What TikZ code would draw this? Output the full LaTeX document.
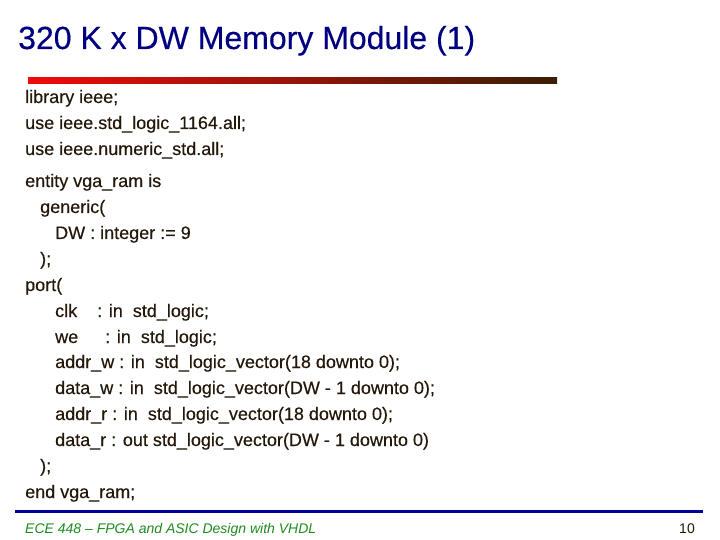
\documentclass[tikz,border=0pt]{standalone}
\usepackage{fontspec}
\setmainfont{Liberation Sans}
\newfontfamily\codefont[FakeBold=0.35]{Liberation Sans}
\usetikzlibrary{positioning}
\definecolor{titleblue}{HTML}{000080}
\definecolor{barred}{HTML}{F00A0A}
\definecolor{barbrown}{HTML}{3A1E05}
\definecolor{codebrown}{HTML}{24180A}
\definecolor{footblue}{HTML}{000099}
\definecolor{footgreen}{HTML}{1E8C1E}

\begin{document}
\begin{tikzpicture}[x=1pt, y=-1pt,
  code/.style={anchor=base west, inner sep=0pt, text=codebrown, font=\codefont\fontsize{18}{21}\selectfont},
  foot/.style={anchor=base west, inner sep=0pt, font=\fontsize{14}{16}\selectfont}]
  \useasboundingbox[fill=white] (0,0) rectangle (720,540);

  % title and bar
  \node[anchor=base west, inner sep=0pt, text=titleblue, font=\codefont\fontsize{32}{36}\selectfont] (T) at (18,49) {320 K x DW Memory Module (1)};
  \shade[left color=barred, right color=barbrown] (28,78) rectangle (557,84);

  % code
  \node[code] (L1)  at (25,103) {library ieee;};
  \node[code] (L2)  at (25,129) {use ieee.std\_logic\_1164.all;};
  \node[code] (L3)  at (25,155) {use ieee.numeric\_std.all;};
  \node[code] (E)   at (25,187) {entity vga\_ram is};
  \node[code] (G)   at (40,213) {generic(};
  \node[code] (DW)  at (55,239) {DW : integer := 9};
  \node[code] (G2)  at (40,265) {);};
  \node[code] (P)   at (25,291) {port(};
  \node[code] (CLK) at (55,317) {clk\hspace{20pt}: in\ \ std\_logic;};
  \node[code] (WE)  at (55,343) {we\hspace{27pt}: in\ \ std\_logic;};
  \node[code] (AW)  at (55,368) {addr\_w : in\ \ std\_logic\_vector(18 downto 0);};
  \node[code] (DWR) at (55,394) {data\_w : in\ \ std\_logic\_vector(DW - 1 downto 0);};
  \node[code] (AR)  at (55,420) {addr\_r : in\ \ std\_logic\_vector(18 downto 0);};
  \node[code] (DR)  at (55,446) {data\_r : out std\_logic\_vector(DW - 1 downto 0)};
  \node[code] (P2)  at (40,472) {);};
  \node[code] (END) at (25,498) {end vga\_ram;};

  % footer
  \draw[footblue, line width=3pt] (15,511) -- (703,511);
  \node[foot, text=footgreen, font=\fontsize{14}{16}\selectfont\itshape] (F) at (25,533) {ECE 448 \textendash{} FPGA and ASIC Design with VHDL};
  \node[foot, anchor=base east, text=codebrown] (N) at (695,533) {10};
\end{tikzpicture}
\end{document}
